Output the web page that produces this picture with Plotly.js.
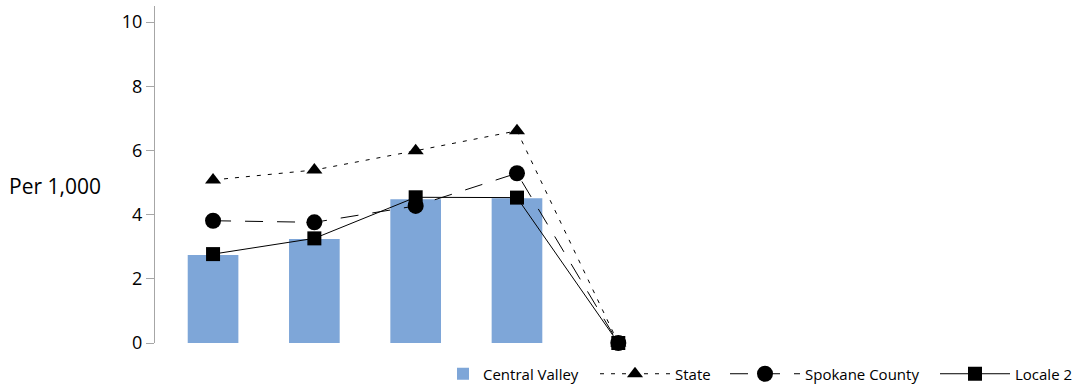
<!DOCTYPE html>
<html><head><meta charset="utf-8">
<script src="https://cdn.plot.ly/plotly-3.0.1.min.js"></script>
<style>html,body{margin:0;padding:0;background:#fff}</style>
</head><body><div id="chart" style="width:1079px;height:386px"></div>
<script>
const categories = ["1", "2", "3", "4", "5"];
const centralValley = [2.74, 3.24, 4.48, 4.51, null];
const state = [5.08, 5.39, 5.99, 6.61, 0];
const spokaneCounty = [3.81, 3.76, 4.27, 5.29, 0];
const locale2 = [2.77, 3.26, 4.54, 4.53, 0];
const yTicks = [0, 2, 4, 6, 8, 10];

const xIdx = categories.map((c, i) => i);
const font = "Open Sans, Segoe UI, sans-serif";

const traces = [
  {type: "bar", name: "Central Valley", x: xIdx, y: centralValley, width: 0.5,
   marker: {color: "#7ea6d8"}, legend: "legend"},
  {type: "scatter", mode: "lines+markers", name: "State", x: xIdx, y: state,
   line: {color: "#000", width: 1, dash: "4px,7px"},
   marker: {symbol: "triangle-up", size: 14, color: "#000"}, cliponaxis: false, legend: "legend2"},
  {type: "scatter", mode: "lines+markers", name: "Spokane County", x: xIdx, y: spokaneCounty,
   line: {color: "#000", width: 1, dash: "18px,14px"},
   marker: {symbol: "circle", size: 16, color: "#000"}, cliponaxis: false, legend: "legend3"},
  {type: "scatter", mode: "lines+markers", name: "Locale 2", x: xIdx, y: locale2,
   line: {color: "#000", width: 1},
   marker: {symbol: "square", size: 14, color: "#000"}, cliponaxis: false, legend: "legend4"}
];

const plotL = 155, plotW = 905;
const px = p => (p - plotL) / plotW;
const legY = -0.043;
const legBase = {orientation: "h", xanchor: "left", y: legY, yanchor: "top",
                 font: {size: 15, family: font, color: "#000"}, bgcolor: "rgba(0,0,0,0)"};

const layout = {
  width: 1079, height: 386,
  margin: {l: plotL, r: 1079 - plotL - plotW, t: 6, b: 43, autoexpand: false},
  paper_bgcolor: "#fff", plot_bgcolor: "#fff",
  showlegend: true,
  font: {family: font, color: "#000"},
  xaxis: {range: [-0.573, 8.36], showticklabels: false, ticks: "", showgrid: false,
          zeroline: false, showline: false, fixedrange: true},
  yaxis: {range: [0, 10.5], tickvals: yTicks, ticktext: yTicks.map(String),
          showgrid: false, zeroline: false, showline: true, linecolor: "#a6a6a6", linewidth: 1,
          ticks: "outside", ticklen: 8, tickcolor: "#a6a6a6", tickfont: {size: 18, family: font, color: "#000"},
          title: {text: ""}},
  legend: Object.assign({}, legBase, {x: px(443), itemwidth: 30}),
  legend2: Object.assign({}, legBase, {x: px(595), itemwidth: 70}),
  legend3: Object.assign({}, legBase, {x: px(725), itemwidth: 70}),
  legend4: Object.assign({}, legBase, {x: px(935), itemwidth: 70}),
  annotations: [{text: "Per 1,000", xref: "paper", yref: "paper", x: px(7), xanchor: "left",
                 y: 0.466, yanchor: "middle", showarrow: false, font: {size: 21, family: font, color: "#000"}}],
  bargap: 0.5
};

Plotly.newPlot("chart", traces, layout, {displayModeBar: false, staticPlot: true});
</script></body></html>
